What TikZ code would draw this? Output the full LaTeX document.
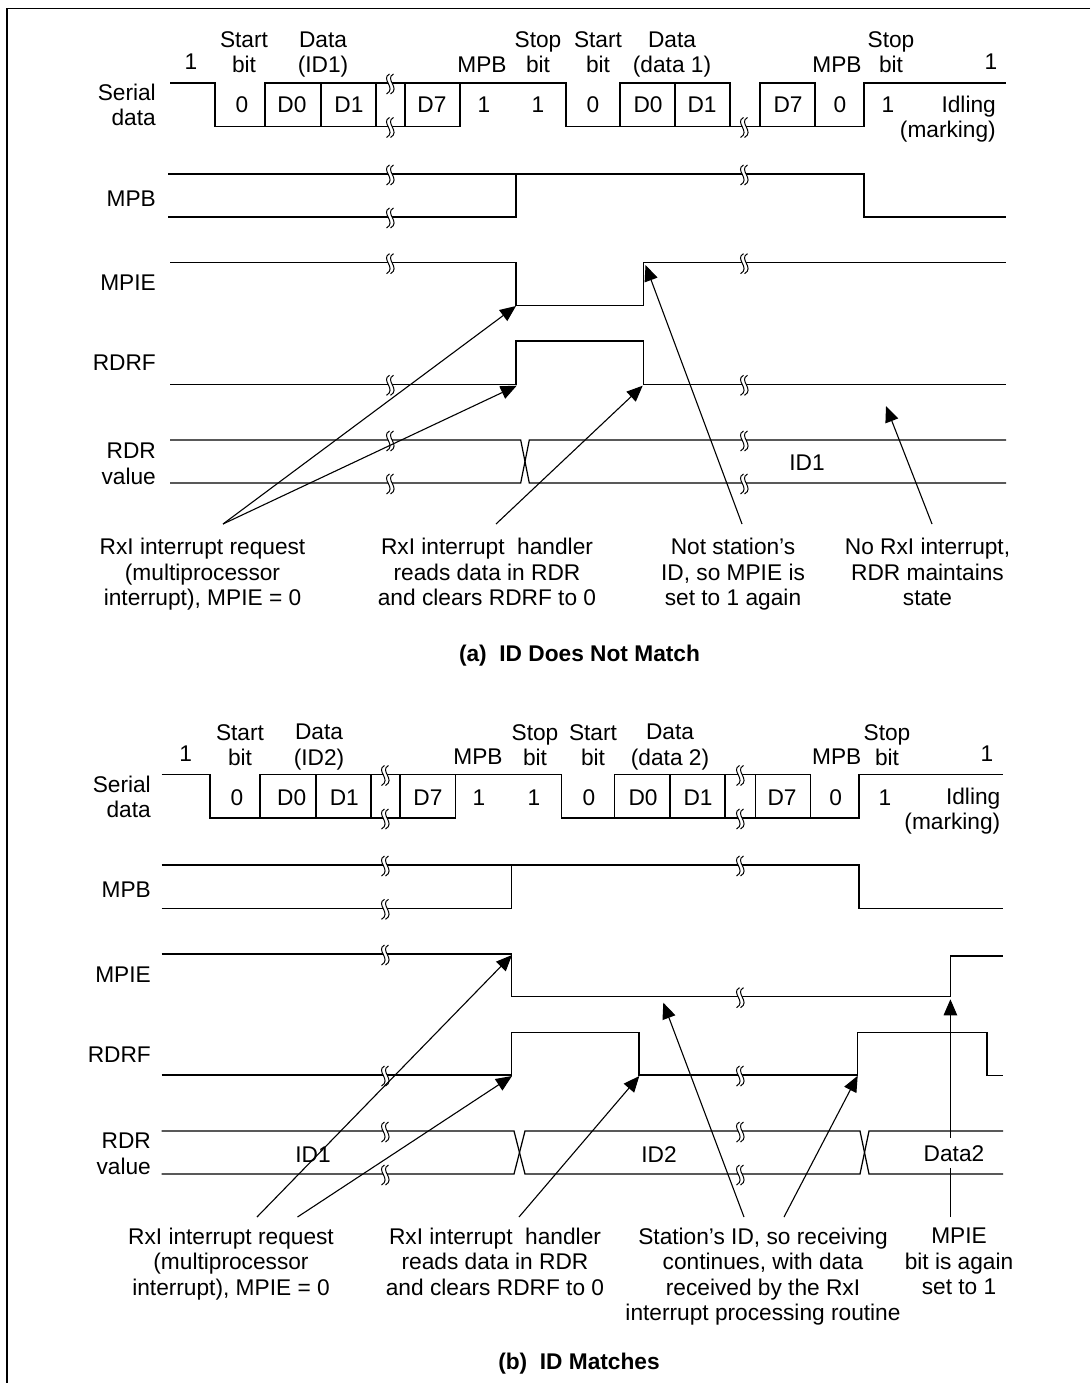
\documentclass[tikz,border=0pt]{standalone}
\usepackage{fontspec}
\setmainfont{Liberation Sans}
\usetikzlibrary{arrows.meta}
\newcommand{\brk}[2]{%
  \fill[white] (#1-0.5,#2-9) .. controls (#1-10,#2-4) and (#1+7,#2+5) .. (#1-3.5,#2+11) -- (#1+0.5,#2+11) .. controls (#1+11,#2+5) and (#1-6,#2-4) .. (#1+3.5,#2-9) -- cycle;
  \draw[brkline] (#1-0.5,#2-9) .. controls (#1-10,#2-4) and (#1+7,#2+5) .. (#1-3.5,#2+11);
  \draw[brkline] (#1+3.5,#2-9) .. controls (#1-6,#2-4) and (#1+11,#2+5) .. (#1+0.5,#2+11);
}
\newcommand{\lnend}{\rule[-6pt]{0pt}{6pt}}
\tikzset{
  sig/.style={line width=1.25pt,line join=miter},
  brkline/.style={line width=1pt},
  frameline/.style={line width=1.3pt},
  callout/.style={line width=1.1pt,-{Triangle[length=16pt,width=13.5pt]}},
  txt/.style={font=\fontsize{22.7}{25.5}\selectfont,inner sep=0pt,align=center,
    execute at begin node={\rule[-6pt]{0pt}{28pt}}},
  lbl/.style={txt,anchor=east,align=right},
  ml/.style={yshift=-3.2pt},
  captxt/.style={txt,font=\fontsize{22.7}{25.5}\selectfont\bfseries}
}
\begin{document}
\begin{tikzpicture}[x=1pt,y=-1pt]
\useasboundingbox (0,0) rectangle (1090,1383);
\fill[white] (0,0) rectangle (1090,1383);
\draw[frameline] (1090,8.3) -- (7,8.3) -- (7,1383);

% ===== (a) =====
% serial data
\draw[sig] (170,83) -- (215,83) -- (215,126.5) -- (376,126.5) -- (405,126.5) -- (460,126.5) -- (460,83) -- (566,83) -- (566,126.5) -- (815,126.5) -- (864,126.5) -- (864,83) -- (1006,83);
\draw[sig] (265,126.5) -- (265,83) -- (376,83) -- (376,126.5);
\draw[sig] (321,83) -- (321,126.5);
\draw[sig] (376,83) -- (405,83) -- (405,126.5);
\draw[sig] (405,83) -- (460,83);
\draw[sig] (620,126.5) -- (620,83) -- (730,83) -- (730,126.5);
\draw[sig] (675,83) -- (675,126.5);
\draw[sig] (760,126.5) -- (760,83) -- (815,83) -- (815,126.5);
\brk{390}{83}\brk{390}{126.5}\brk{744}{126.5}
% MPB
\draw[sig] (168,174) -- (864,174) -- (864,217) -- (1006,217);
\draw[sig] (168,217) -- (516,217) -- (516,174);
\brk{390}{174}\brk{390}{217}\brk{744}{174}
% MPIE
\draw[sig] (170,262.7) -- (516,262.7) -- (516,305.7) -- (643.7,305.7) -- (643.7,262.7) -- (1006,262.7);
\brk{390}{262.7}\brk{744}{262.7}
% RDRF
\draw[sig] (170,384.3) -- (516,384.3) -- (516,341) -- (643.7,341) -- (643.7,384.3) -- (1006,384.3);
\brk{390}{384.3}\brk{744}{384.3}
% RDR
\draw[sig] (170,440) -- (520.7,440) -- (529.3,483) -- (1006,483);
\draw[sig] (170,483) -- (520.7,483) -- (529.3,440) -- (1006,440);
\brk{390}{440}\brk{390}{483}\brk{744}{440}\brk{744}{483}

\node[txt] (a1) at (191,62) {1\lnend};
\node[txt,ml] (astart) at (244,52) {Start\\bit\lnend};
\node[txt,ml] (adata) at (323,52) {Data\\(ID1)\lnend};
\node[txt] (ampb) at (482,65) {MPB\lnend};
\node[txt,ml] (astop) at (538,52) {Stop\\bit\lnend};
\node[txt,ml] (astartb) at (598,52) {Start\\bit\lnend};
\node[txt,ml] (adatab) at (672,52) {Data\\(data 1)\lnend};
\node[txt] (ampbb) at (837,65) {MPB\lnend};
\node[txt,ml] (astopb) at (891,52) {Stop\\bit\lnend};
\node[txt] (a1b) at (991,62) {1\lnend};
\node[txt] (b0a) at (242,105) {0\lnend};
\node[txt] (d0a) at (292,105) {D0\lnend};
\node[txt] (d1a) at (349,105) {D1\lnend};
\node[txt] (d7a) at (432,105) {D7\lnend};
\node[txt] (b1a) at (484,105) {1\lnend};
\node[txt] (b2a) at (538,105) {1\lnend};
\node[txt] (b3a) at (593,105) {0\lnend};
\node[txt] (d0b) at (648,105) {D0\lnend};
\node[txt] (d1b) at (702,105) {D1\lnend};
\node[txt] (d7b) at (788,105) {D7\lnend};
\node[txt] (b4a) at (840,105) {0\lnend};
\node[txt] (b5a) at (888,105) {1\lnend};
\node[lbl,ml] (aidle) at (996,116.5) {Idling\\(marking)\lnend};
\node[lbl,ml] (aserial) at (156,104.5) {Serial\\data\lnend};
\node[lbl] (lmpb) at (156,198) {MPB\lnend};
\node[lbl] (lmpie) at (156,282) {MPIE\lnend};
\node[lbl] (lrdrf) at (156,362) {RDRF\lnend};
\node[lbl,ml] (lrdr) at (156,463.5) {RDR\\value\lnend};
\node[txt] (aid) at (807,462) {ID1\lnend};
\node[txt,ml] (ca1) at (202.5,572) {RxI interrupt request\\(multiprocessor\\interrupt), MPIE = 0\lnend};
\node[txt,ml] (ca2) at (487,572) {RxI interrupt\ \ handler\\reads data in RDR\\and clears RDRF to 0\lnend};
\node[txt,ml] (ca3) at (733,572) {Not station’s\\ID, so MPIE is\\set to 1 again\lnend};
\node[txt,ml] (ca4) at (927.5,572) {No RxI interrupt,\\RDR maintains\\state\lnend};
\node[captxt] (capa) at (579.5,653) {(a)\ \ ID Does Not Match\lnend};

\coordinate (aA) at (223,524);
\coordinate (aC) at (496,524);
\coordinate (aD) at (742,524);
\coordinate (aE) at (932,524);
\coordinate (tA) at (516,306);
\coordinate (tB) at (516.7,385.7);
\coordinate (tC) at (642.7,385.7);
\coordinate (tD) at (645.5,265);
\coordinate (tE) at (886,406);
\draw[callout] (aA) -- (tA);
\draw[callout] (aA) -- (tB);
\draw[callout] (aC) -- (tC);
\draw[callout] (aD) -- (tD);
\draw[callout] (aE) -- (tE);

% ===== (b) =====
\draw[sig] (161.7,774.5) -- (210,774.5) -- (210,818) -- (455.7,818) -- (455.7,774.5) -- (561.7,774.5) -- (561.7,818) -- (859,818) -- (859,774.5) -- (1003,774.5);
\draw[sig] (260,818) -- (260,774.5) -- (371,774.5) -- (371,818);
\draw[sig] (316,774.5) -- (316,818);
\draw[sig] (371,774.5) -- (400,774.5) -- (400,818);
\draw[sig] (400,774.5) -- (455.7,774.5);
\draw[sig] (614.7,818) -- (614.7,774.5) -- (725,774.5) -- (725,818);
\draw[sig] (670,774.5) -- (670,818);
\draw[sig] (725,774.5) -- (755.7,774.5) -- (755.7,818);
\draw[sig] (755.7,774.5) -- (810.7,774.5) -- (810.7,818);
\brk{385}{774.5}\brk{385}{818}\brk{740}{774.5}\brk{740}{818}
% MPB
\draw[sig] (161.7,865) -- (859,865) -- (859,908.3) -- (1003,908.3);
\draw[sig] (161.7,908.3) -- (511.7,908.3) -- (511.7,865);
\brk{385}{865}\brk{385}{908.3}\brk{740}{865}
% MPIE
\draw[sig] (161.7,954) -- (511.7,954) -- (511.7,996.7) -- (950.7,996.7) -- (950.7,956) -- (1003,956);
\brk{385}{954}\brk{740}{996.7}
% RDRF
\draw[sig] (161.7,1075) -- (511.7,1075) -- (511.7,1032.7) -- (639,1032.7) -- (639,1075) -- (857.7,1075) -- (857.7,1032.7) -- (987,1032.7) -- (987,1075.7) -- (1003,1075.7);
\brk{385}{1075}\brk{740}{1075}
% RDR
\draw[sig] (161.7,1131) -- (514,1131) -- (525,1174) -- (860,1174) -- (869,1131) -- (1003,1131);
\draw[sig] (161.7,1174) -- (514,1174) -- (525,1131) -- (860,1131) -- (869,1174) -- (1003,1174);
\brk{385}{1131}\brk{385}{1174}\brk{740}{1131}\brk{740}{1174}

\node[txt] (b1) at (185.7,753) {1\lnend};
\node[txt,ml] (bstart) at (240,744.7) {Start\\bit\lnend};
\node[txt,ml] (bdata) at (319,744.7) {Data\\(ID2)\lnend};
\node[txt] (bmpb) at (478,756) {MPB\lnend};
\node[txt,ml] (bstop) at (535,744.7) {Stop\\bit\lnend};
\node[txt,ml] (bstartb) at (593,744.7) {Start\\bit\lnend};
\node[txt,ml] (bdatab) at (670,744.7) {Data\\(data 2)\lnend};
\node[txt] (bmpbb) at (836.7,756) {MPB\lnend};
\node[txt,ml] (bstopb) at (887,744.7) {Stop\\bit\lnend};
\node[txt] (b1b) at (987,753) {1\lnend};
\node[txt] (s0) at (237,797) {0\lnend};
\node[txt] (sd0) at (291.7,797) {D0\lnend};
\node[txt] (sd1) at (344.3,797) {D1\lnend};
\node[txt] (sd7) at (428,797) {D7\lnend};
\node[txt] (s1) at (479,797) {1\lnend};
\node[txt] (s2) at (534,797) {1\lnend};
\node[txt] (s3) at (589,797) {0\lnend};
\node[txt] (sd0b) at (643,797) {D0\lnend};
\node[txt] (sd1b) at (698,797) {D1\lnend};
\node[txt] (sd7b) at (782,797) {D7\lnend};
\node[txt] (s4) at (835.7,797) {0\lnend};
\node[txt] (s5) at (885,797) {1\lnend};
\node[lbl,ml] (bidle) at (1000.5,808.5) {Idling\\(marking)\lnend};
\node[lbl,ml] (bserial) at (151,796.5) {Serial\\data\lnend};
\node[lbl] (mpb2) at (151,889) {MPB\lnend};
\node[lbl] (mpie2) at (151,974) {MPIE\lnend};
\node[lbl] (rdrf2) at (151,1054) {RDRF\lnend};
\node[lbl,ml] (rdr2) at (151,1153.5) {RDR\\value\lnend};
\node[txt] (id1) at (313,1154) {ID1\lnend};
\node[txt] (id2) at (659,1154) {ID2\lnend};
\coordinate (fA) at (257,1217);
\coordinate (fB) at (297.5,1217);
\coordinate (fC) at (519,1217);
\coordinate (fD) at (744,1217);
\coordinate (fE) at (784,1217);
\coordinate (fF) at (950.4,1217);
\coordinate (gA) at (512,955);
\coordinate (gB) at (512,1076);
\coordinate (gC) at (639.3,1076);
\coordinate (gD) at (663.3,1002.7);
\coordinate (gE) at (857.7,1075.7);
\coordinate (gF) at (950.4,999.3);
\draw[callout] (fA) -- (gA);
\draw[callout] (fB) -- (gB);
\draw[callout] (fC) -- (gC);
\draw[callout] (fD) -- (gD);
\draw[callout] (fE) -- (gE);
\draw[callout] (fF) -- (gF);
\node[txt,fill=white,minimum height=30pt,minimum width=40pt] (data2) at (954,1153) {Data2\lnend};
\node[txt,ml] (cb1) at (231,1261.3) {RxI interrupt request\\(multiprocessor\\interrupt), MPIE = 0\lnend};
\node[txt,ml] (cb2) at (495,1261.3) {RxI interrupt\ \ handler\\reads data in RDR\\and clears RDRF to 0\lnend};
\node[txt,ml] (cb3) at (763,1274) {Station’s ID, so receiving\\continues, with data\\received by the RxI\\interrupt processing routine\lnend};
\node[txt,ml] (cb4) at (959,1261.3) {MPIE\\bit is again\\set to 1\lnend};
\node[captxt] (capb) at (579,1361.7) {(b)\ \ ID Matches\lnend};
\end{tikzpicture}
\end{document}
